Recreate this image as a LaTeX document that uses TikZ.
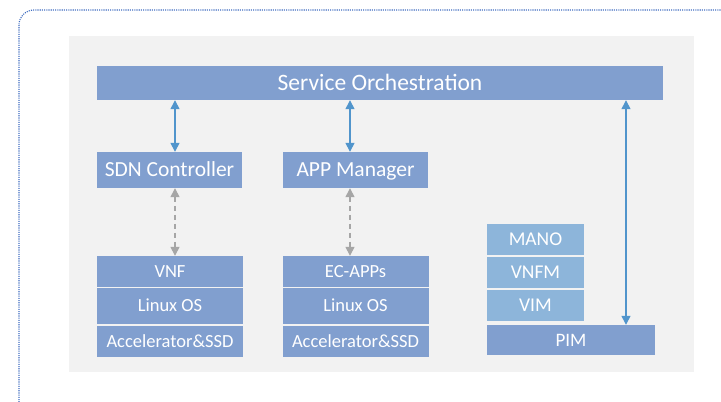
\documentclass[tikz,border=0pt]{standalone}
\usepackage{fontspec}
\setmainfont{Carlito}
\usetikzlibrary{arrows.meta, positioning, calc}
\definecolor{boxblue}{HTML}{819FCF}
\definecolor{liteblue}{HTML}{8DB5DA}
\definecolor{arrowblue}{HTML}{5195CC}
\definecolor{panelgray}{HTML}{F2F2F2}
\definecolor{dashgray}{HTML}{A6A6A6}
\definecolor{framedot}{HTML}{3F6CC0}
\tikzset{
    block/.style={fill=boxblue, text=white, inner sep=0pt, text height=13.8pt, text depth=0pt, minimum width=145pt, minimum height=36pt, font=\fontsize{21.5}{24}\selectfont},
    layer/.style={fill=boxblue, text=white, inner sep=0pt, text height=11.9pt, text depth=0pt, minimum width=146pt, minimum height=31pt, font=\fontsize{18.5}{21}\selectfont},
    nfv/.style={fill=liteblue, text=white, inner sep=0pt, text height=12.6pt, text depth=0pt, minimum width=97pt, minimum height=31pt, font=\fontsize{19.5}{22}\selectfont},
    biarrow/.style={{Triangle[width=9pt,length=9pt]}-{Triangle[width=9pt,length=9pt]}, arrowblue, line width=1.4pt},
    mgmt/.style={{Triangle[width=9pt,length=9pt]}-{Triangle[width=9pt,length=9pt]}, dashgray, line width=1.4pt, dash pattern=on 5pt off 4pt}
}

\begin{document}
\begin{tikzpicture}[x=1pt, y=-1pt]
    \useasboundingbox (0,0) rectangle (721,402);
    % outer frame and panel
    \draw[framedot, line width=1.1pt, dash pattern=on 1.1pt off 1.1pt, rounded corners=15pt] (19,10) rectangle (760,440);
    \fill[panelgray] (69,36) rectangle (694,372);

    % top layer
    \node[block, minimum width=566pt, minimum height=34pt, text height=15.1pt, font=\fontsize{23.5}{26}\selectfont] (orch) at (380,83) {Service Orchestration};
    \node[block] (sdn) at (169.5,170) {SDN Controller};
    \node[block] (app) at (355.5,170) {APP Manager};

    % stacks
    \node[layer] (vnf) at (170,271.5) {VNF};
    \node[layer, minimum height=36pt] (los1) at (170,306) {Linux OS};
    \node[layer] (acc1) at (170,341.5) {Accelerator\&SSD};
    \node[layer] (ecapps) at (355.5,271.5) {EC-APPs};
    \node[layer, minimum height=36pt] (los2) at (355.5,306) {Linux OS};
    \node[layer] (acc2) at (355.5,341.5) {Accelerator\&SSD};

    \node[nfv] (mano) at (535.5,239.5) {MANO};
    \node[nfv] (vnfm) at (535.5,272.5) {VNFM};
    \node[nfv] (vim) at (535.5,305.5) {VIM};
    \node[layer, minimum width=168pt, minimum height=30pt, text height=12.2pt, font=\fontsize{19}{22}\selectfont] (pim) at (571,340) {PIM};

    % connectors
    \draw[biarrow] ([xshift=5.5pt]sdn.north) -- ([xshift=5.5pt]sdn.north |- orch.south);
    \draw[biarrow] ([xshift=-5.5pt]app.north) -- ([xshift=-5.5pt]app.north |- orch.south);
    \draw[biarrow] ([xshift=55pt]pim.north) -- ([xshift=55pt]pim.north |- orch.south);
    \draw[mgmt] ([xshift=5.5pt]sdn.south) -- ([xshift=5pt]vnf.north);
    \draw[mgmt] ([xshift=-5.5pt]app.south) -- ([xshift=-5.5pt]ecapps.north);
\end{tikzpicture}
\end{document}
